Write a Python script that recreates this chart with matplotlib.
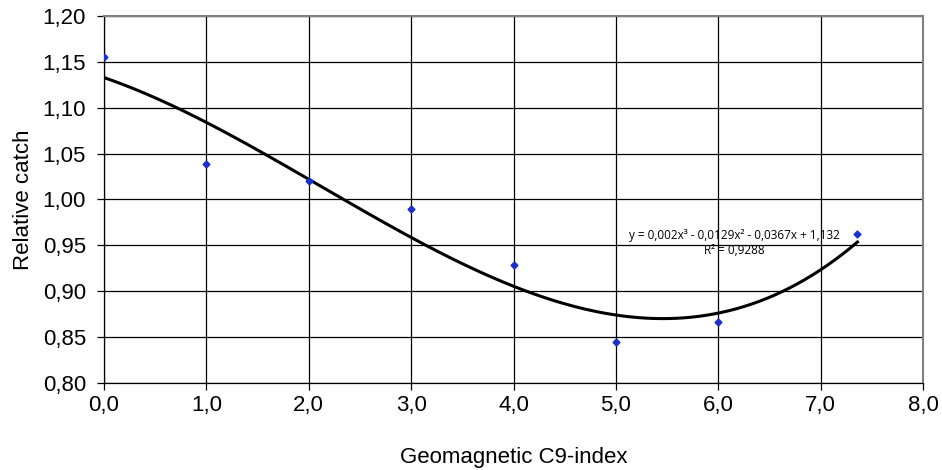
import numpy as np
import matplotlib
matplotlib.use("Agg")
import matplotlib.pyplot as plt
from matplotlib.ticker import FuncFormatter, MultipleLocator

c9_index = [0.0, 1.0, 2.0, 3.0, 4.0, 5.0, 6.0, 7.36]
relative_catch = [1.155, 1.039, 1.020, 0.990, 0.929, 0.845, 0.867, 0.962]
equation_text = "y = 0,002x³ - 0,0129x² - 0,0367x + 1,132"
r2_text = "R² = 0,9288"

plt.rcParams['font.family'] = ['Liberation Sans', 'DejaVu Sans']

fig = plt.figure(figsize=(9.42, 4.70), dpi=100)
ax = fig.add_axes([104/942, 1-383/470, (923-104)/942, (383-16)/470])

# cubic trendline fitted to the data
coef = np.polyfit(c9_index, relative_catch, 3)
xs = np.linspace(min(c9_index), max(c9_index), 300)
ax.plot(xs, np.polyval(coef, xs), color='black', lw=2.2, zorder=3)

ax.plot(c9_index, relative_catch, linestyle='none', marker='D', markersize=3.5,
        color='#1a2fd0', markeredgecolor='#1a2fd0', zorder=4)

ax.set_xlim(0, 8)
ax.set_ylim(0.80, 1.20)
ax.xaxis.set_major_locator(MultipleLocator(1.0))
ax.yaxis.set_major_locator(MultipleLocator(0.05))
ax.xaxis.set_major_formatter(FuncFormatter(lambda v, p: f"{v:.1f}".replace('.', ',')))
ax.yaxis.set_major_formatter(FuncFormatter(lambda v, p: f"{v:.2f}".replace('.', ',')))
ax.grid(True, color='black', lw=0.9)
ax.set_axisbelow(True)
ax.tick_params(direction='out', length=5, width=0.9, labelsize=16, color='black')
ax.tick_params(axis='x', pad=4)
ax.tick_params(axis='y', pad=8)

for s in ['top', 'right']:
    ax.spines[s].set_color('#808080')
    ax.spines[s].set_linewidth(1.5)
for s in ['left', 'bottom']:
    ax.spines[s].set_color('black')
    ax.spines[s].set_linewidth(0.9)

ax.set_xlabel('Geomagnetic C9-index', fontsize=16, labelpad=22)
ax.set_ylabel('Relative catch', fontsize=16, labelpad=6)

ax.text(6.16, 0.961, equation_text, fontsize=8.5, family=['Open Sans', 'DejaVu Sans'],
        ha='center', va='center', zorder=5)
ax.text(6.16, 0.944, r2_text, fontsize=8.5, family=['Open Sans', 'DejaVu Sans'],
        ha='center', va='center', zorder=5)

fig.savefig('out.png', dpi=100)
